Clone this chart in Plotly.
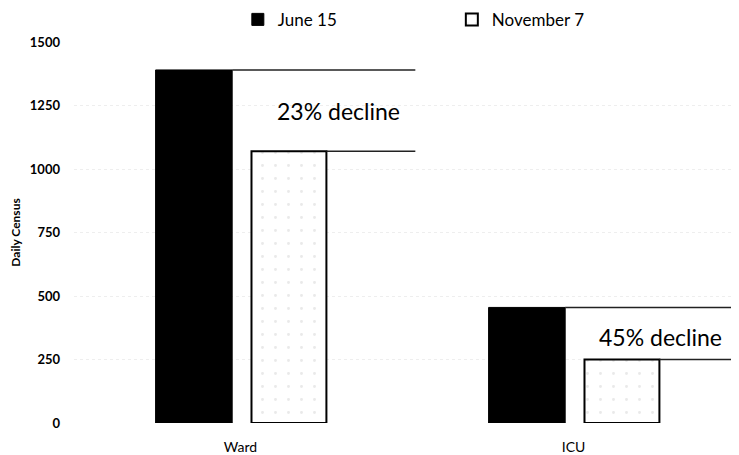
import plotly.graph_objects as go

# data
units = ["Ward", "ICU"]
june_15 = [1390, 455]
november_7 = [1070, 250]
declines = ["23% decline", "45% decline"]
y_ticks = [0, 250, 500, 750, 1000, 1250, 1500]

FONT = "Lato, 'Open Sans', sans-serif"

fig = go.Figure()

fig.add_trace(go.Bar(
    name="June 15", x=units, y=june_15,
    width=0.23, offset=-0.255,
    marker=dict(color="black", line=dict(color="black", width=1)),
))
fig.add_trace(go.Bar(
    name="November 7", x=units, y=november_7,
    width=0.225, offset=0.033,
    marker=dict(color="white", line=dict(color="black", width=2),
                pattern=dict(shape=".", fgcolor="#d4d4d4", bgcolor="white",
                             size=13, solidity=0.04)),
))

# horizontal reference lines running right from the top of each bar
line_end = [0.525, 1.5]
label_dx = [0.295, 0.26]
label_dy = [0, -13]
for i, unit in enumerate(units):
    for val, start in ((june_15[i], i - 0.025), (november_7[i], i + 0.258)):
        fig.add_shape(type="line", xref="x", yref="y",
                      x0=start, x1=line_end[i], y0=val, y1=val,
                      line=dict(color="#222", width=1.5))
    # label sits between the two lines
    fig.add_annotation(
        x=i + label_dx[i], y=(june_15[i] + november_7[i]) / 2 + label_dy[i],
        text=declines[i], showarrow=False,
        font=dict(size=23, color="black", family=FONT),
    )

fig.update_layout(
    width=739, height=455,
    margin=dict(l=66, r=7, t=34, b=40),
    paper_bgcolor="white", plot_bgcolor="white",
    font=dict(family=FONT, color="black"),
    showlegend=True,
    legend=dict(orientation="h", xref="paper", yref="container",
                x=0.246, y=0.974, xanchor="left", yanchor="middle",
                entrywidth=169, entrywidthmode="pixels",
                font=dict(size=17), itemwidth=30),
    xaxis=dict(type="category", range=[-0.5, 1.5], showgrid=False,
               showline=False, zeroline=False, ticks="", automargin=False,
               ticklabelstandoff=14, tickfont=dict(size=14)),
    yaxis=dict(range=[0, 1500], tickvals=y_ticks, showgrid=True,
               gridcolor="#eeeeee", griddash="dot", zeroline=False,
               showline=False, ticks="", ticklabelstandoff=13, automargin=False,
               tickfont=dict(size=13, weight="bold"),
               title=dict(text="<b>Daily Census</b>", font=dict(size=12), standoff=6)),
)

fig.write_html("out.html")
